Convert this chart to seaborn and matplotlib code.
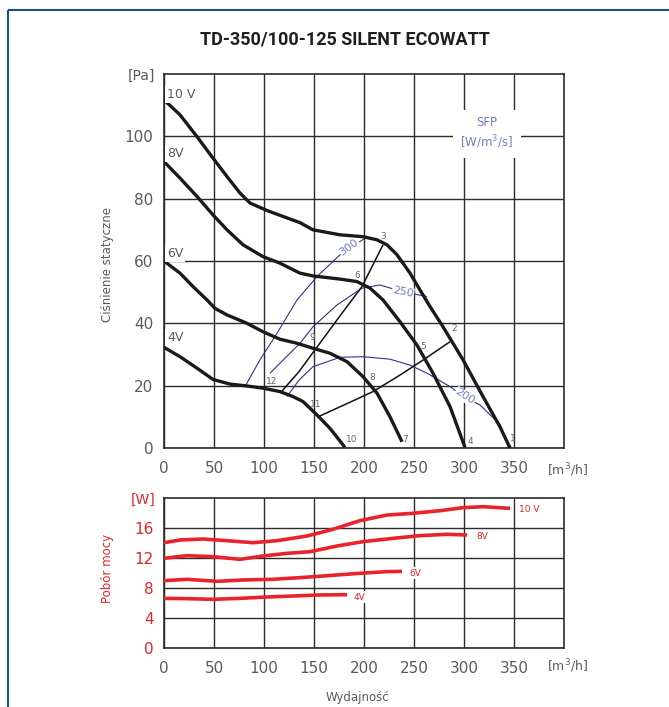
import numpy as np
import pandas as pd
import matplotlib
matplotlib.use("Agg")
import matplotlib.pyplot as plt
from matplotlib.lines import Line2D
from matplotlib.ticker import MultipleLocator
import seaborn as sns

# ---------------- data ----------------
title = "TD-350/100-125 SILENT ECOWATT"

# fan curves: airflow [m3/h], static pressure [Pa]
fan_10v_x = [0, 16, 33, 49, 63, 76, 86, 103, 119, 136, 149, 176, 199, 213, 223, 233, 246, 256, 266, 279, 299, 319, 336, 346]
fan_10v_y = [111.7, 106.9, 99.9, 93.0, 87.1, 81.8, 78.6, 76.2, 74.3, 72.3, 70.0, 68.4, 67.8, 66.8, 65.2, 62.0, 56.1, 50.7, 45.4, 38.9, 28.3, 16.5, 6.8, 0]
fan_8v_x = [0, 16, 33, 49, 63, 79, 99, 116, 136, 149, 176, 193, 206, 219, 236, 253, 269, 286, 301]
fan_8v_y = [91.9, 86.6, 80.7, 74.8, 70.0, 65.2, 61.4, 59.3, 56.1, 55.2, 54.2, 53.4, 51.3, 47.5, 40.5, 33.0, 24.0, 13.3, 0.2]
fan_6v_x = [0, 16, 29, 43, 51, 63, 83, 99, 116, 133, 149, 166, 183, 199, 213, 226, 238]
fan_6v_y = [60.0, 56.1, 51.8, 47.5, 44.8, 42.7, 40.0, 37.3, 34.9, 33.6, 32.0, 30.4, 27.7, 22.9, 17.6, 10.0, 2.0]
fan_4v_x = [0, 16, 33, 49, 66, 83, 99, 116, 129, 139, 153, 166, 181]
fan_4v_y = [32.3, 29.3, 25.6, 22.0, 20.5, 19.9, 19.2, 18.1, 16.5, 14.9, 10.6, 6.3, 0.2]

# system characteristics
sys_a_x = [118, 135, 151, 173, 198, 219]
sys_a_y = [18.3, 24.5, 31.5, 41.1, 51.8, 65.2]
sys_b_x = [154, 180, 209, 236, 259, 286]
sys_b_y = [10.0, 13.8, 18.1, 23.4, 28.2, 34.1]

# SFP iso-lines
sfp300_x = [81, 96, 113, 133, 153, 178, 201]
sfp300_y = [19.7, 28.3, 36.8, 47.5, 55.0, 62.6, 67.3]
sfp250_x = [106, 121, 136, 149, 173, 198, 216, 238, 263]
sfp250_y = [24.0, 28.8, 33.6, 38.9, 45.9, 51.3, 52.3, 50.2, 48.6]
sfp200_x = [123, 135, 149, 176, 199, 226, 246, 263, 286, 301, 316, 333]
sfp200_y = [16.5, 21.8, 26.1, 29.1, 29.3, 28.5, 26.6, 24.0, 19.7, 16.2, 13.8, 8.5]

# operating point labels
pt_labels = ["1", "2", "3", "4", "5", "6", "7", "8", "9", "10", "11", "12"]
pt_x = [349, 290, 219, 306, 259, 193, 241, 208, 148, 188, 152, 108]
pt_y = [3.2, 38.2, 68, 2.2, 32.7, 55.5, 2.6, 22.5, 35.3, 2.6, 14, 21.2]

# power consumption [W]
pw_10v_x = [0, 16, 39, 63, 89, 113, 143, 169, 196, 223, 249, 276, 299, 319, 346]
pw_10v_y = [14.04, 14.4, 14.53, 14.31, 14.04, 14.31, 14.93, 15.83, 16.98, 17.73, 17.96, 18.31, 18.71, 18.84, 18.62]
pw_8v_x = [0, 23, 49, 76, 99, 123, 146, 173, 199, 229, 256, 283, 303]
pw_8v_y = [11.96, 12.31, 12.18, 11.82, 12.27, 12.62, 12.84, 13.6, 14.18, 14.62, 14.98, 15.16, 15.07]
pw_6v_x = [0, 23, 53, 79, 109, 136, 163, 196, 223, 238]
pw_6v_y = [8.98, 9.16, 8.89, 9.07, 9.16, 9.38, 9.64, 9.96, 10.18, 10.22]
pw_4v_x = [0, 23, 49, 76, 103, 129, 156, 183]
pw_4v_y = [6.62, 6.58, 6.49, 6.62, 6.8, 6.93, 7.07, 7.11]

x_ticks = [0, 50, 100, 150, 200, 250, 300, 350]
p_ticks = [0, 20, 40, 60, 80, 100]
w_ticks = [0, 4, 8, 12, 16]

# ---------------- style ----------------
sns.set_style("white")
plt.rcParams["font.family"] = ["DejaVu Sans"]
plt.rcParams["lines.solid_joinstyle"] = "round"
plt.rcParams["lines.solid_capstyle"] = "butt"

GRID = "#2b2b2b"
TXT = "#5a5a5a"
RED = "#e8232b"
BLUE = "#2e3192"
LBLUE = "#6f7cc6"

fig = plt.figure(figsize=(6.69, 7.07), dpi=100)
W, H = 669, 707


def ax_rect(l, t, r, b):
    return [l / W, 1 - b / H, (r - l) / W, (b - t) / H]


ax1 = fig.add_axes(ax_rect(164, 74, 564, 448))
ax2 = fig.add_axes(ax_rect(164, 498, 564, 648))


def frame(ax, ymax, ymajor, yminor, tickcolor):
    ax.set_xlim(0, 400)
    ax.set_ylim(0, ymax)
    ax.xaxis.set_major_locator(MultipleLocator(50))
    ax.xaxis.set_minor_locator(MultipleLocator(10))
    ax.yaxis.set_major_locator(MultipleLocator(ymajor))
    ax.yaxis.set_minor_locator(MultipleLocator(yminor))
    ax.grid(True, which="major", color=GRID, lw=1.0, zorder=0)
    for s in ax.spines.values():
        s.set_color(GRID)
        s.set_linewidth(1.2)
    ax.tick_params(which="major", direction="inout", length=7, width=1, color=GRID)
    ax.tick_params(which="minor", direction="out", length=3.5, width=1, color=GRID)
    ax.tick_params(axis="x", labelsize=11, labelcolor=TXT, pad=6)
    ax.tick_params(axis="y", labelsize=11, labelcolor=tickcolor, pad=4)
    ax.set_xlabel("")
    ax.set_ylabel("")


def long_df(pairs):
    rows = []
    for name, xs, ys in pairs:
        for i, (x, y) in enumerate(zip(xs, ys)):
            rows.append({"curve": name, "order": i, "x": x, "y": y})
    return pd.DataFrame(rows)


# ---------------- top chart ----------------
fans = long_df([("10V", fan_10v_x, fan_10v_y), ("8V", fan_8v_x, fan_8v_y),
                ("6V", fan_6v_x, fan_6v_y), ("4V", fan_4v_x, fan_4v_y)])
syst = long_df([("A", sys_a_x, sys_a_y), ("B", sys_b_x, sys_b_y)])
sfp = long_df([("300", sfp300_x, sfp300_y), ("250", sfp250_x, sfp250_y),
               ("200", sfp200_x, sfp200_y)])

sns.lineplot(data=sfp, x="x", y="y", units="curve", estimator=None, sort=False,
             color=BLUE, lw=0.8, ax=ax1, zorder=3)
sns.lineplot(data=syst, x="x", y="y", units="curve", estimator=None, sort=False,
             color="#111111", lw=1.1, ax=ax1, zorder=4)
sns.lineplot(data=fans, x="x", y="y", units="curve", estimator=None, sort=False,
             color="#1a1a1a", lw=2.4, ax=ax1, zorder=5)
frame(ax1, 120, 20, 5, TXT)
ax1.set_yticks(p_ticks)
ax1.set_xticks(x_ticks)

for lab, x, y in zip(["10 V", "8V", "6V", "4V"], [3, 3, 3, 3], [113.5, 94.5, 62.3, 35.5]):
    ax1.text(x, y, lab, fontsize=9, color=TXT, ha="left", va="center", zorder=6,
             bbox=dict(boxstyle="square,pad=0.15", fc="white", ec="none"))

for lab, x, y in zip(pt_labels, pt_x, pt_y):
    ax1.text(x, y, lab, fontsize=6.5, color="#666666", ha="center", va="center", zorder=6)

for lab, x, y, rot in [("300", 185, 64.5, 36), ("250", 239, 50, -11), ("200", 301, 16.5, -33)]:
    ax1.text(x, y, lab, fontsize=8, color=LBLUE, ha="center", va="center", rotation=rot,
             zorder=4, bbox=dict(boxstyle="square,pad=0.05", fc="white", ec="none"))

ax1.text(323, 101, "SFP\n[W/m$^3$/s]", fontsize=8.5, color=LBLUE, ha="center", va="center",
         linespacing=1.3, zorder=6,
         bbox=dict(boxstyle="square,pad=0.6", fc="white", ec="none"))

# ---------------- bottom chart ----------------
power = long_df([("10V", pw_10v_x, pw_10v_y), ("8V", pw_8v_x, pw_8v_y),
                 ("6V", pw_6v_x, pw_6v_y), ("4V", pw_4v_x, pw_4v_y)])
sns.lineplot(data=power, x="x", y="y", units="curve", estimator=None, sort=False,
             color=RED, lw=2.6, ax=ax2, zorder=5)
frame(ax2, 20, 4, 1, RED)
ax2.set_yticks(w_ticks)
ax2.set_xticks(x_ticks)
for lab, x, y in zip(["10 V", "8V", "6V", "4V"], [355, 312, 245, 190], [18.4, 14.9, 10.0, 6.8]):
    ax2.text(x, y, lab, fontsize=6.5, color=RED, ha="left", va="center", zorder=6,
             bbox=dict(boxstyle="square,pad=0.15", fc="white", ec="none"))

# ---------------- figure texts ----------------
fig.text(345 / W, 1 - 40 / H, title, fontsize=13, fontweight="semibold", color="#1e1e1e",
         ha="center", va="center", family="Roboto")
fig.text(141 / W, 1 - 76 / H, "[Pa]", fontsize=10, color=TXT, ha="center", va="center")
fig.text(143 / W, 1 - 500 / H, "[W]", fontsize=10, color=RED, ha="center", va="center")
fig.text(547 / W, 1 - 470 / H, "[m$^3$/h]", fontsize=9, color=TXT, ha="left", va="center")
fig.text(547 / W, 1 - 666 / H, "[m$^3$/h]", fontsize=9, color=TXT, ha="left", va="center")
fig.text(107 / W, 1 - 265 / H, "Ciśnienie statyczne", fontsize=8.5, color=TXT,
         rotation=90, ha="center", va="center")
fig.text(107 / W, 1 - 568 / H, "Pobór mocy", fontsize=8.5, color=RED,
         rotation=90, ha="center", va="center")
fig.text(357 / W, 1 - 697 / H, "Wydajność", fontsize=8.5, color=TXT, ha="center", va="center")

# blue frame
fig.add_artist(Line2D([8 / W, 1], [1 - 10 / H, 1 - 10 / H], transform=fig.transFigure,
                      color="#1f4e8c", lw=1.5))
fig.add_artist(Line2D([8 / W, 8 / W], [0, 1 - 10 / H], transform=fig.transFigure,
                      color="#1f4e8c", lw=1.5))

fig.savefig("out.png", dpi=100)
